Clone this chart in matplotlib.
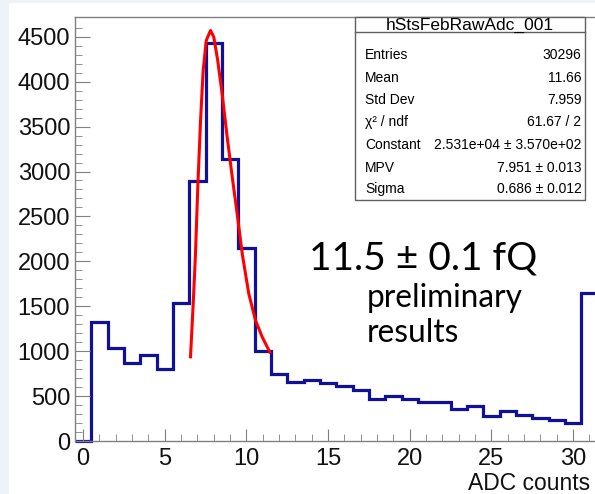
import matplotlib
matplotlib.use('Agg')
import matplotlib.pyplot as plt
import numpy as np
from matplotlib.patches import Rectangle

W, H = 595, 494

# histogram contents, bins of width 1 centred on 0..31
bin_lo = -0.5
counts = [0, 1322, 1032, 865, 958, 802, 1533, 2899, 4436, 3144, 2150, 1006,
          743, 659, 678, 642, 615, 567, 467, 500, 467, 430, 430, 352,
          393, 281, 337, 289, 259, 230, 197, 1653]

# landau fit curve
fit_x = [6.57, 6.74, 6.88, 7.02, 7.19, 7.35, 7.54, 7.80, 8.00, 8.24, 8.51,
         8.82, 9.13, 9.43, 9.74, 10.14, 10.55, 10.96, 11.47]
fit_y = [920, 1531, 2087, 2828, 3570, 4126, 4459, 4570, 4496, 4237, 3866,
         3384, 2939, 2532, 2087, 1642, 1346, 1160, 975]

stats_title = 'hStsFebRawAdc_001'
stats_names = ['Entries', 'Mean', 'Std Dev', 'χ² / ndf', 'Constant', 'MPV', 'Sigma']
stats_vals = ['30296', '11.66', '7.959', '61.67 / 2',
              '2.531e+04 ± 3.570e+02', '7.951 ± 0.013', '0.686 ± 0.012']


def fx(px):
    return px / W


def fy(py):
    return 1 - py / H


plt.rcParams['font.family'] = ['Liberation Sans', 'DejaVu Sans']
fig = plt.figure(figsize=(W / 100, H / 100), dpi=100, facecolor='#eef2f9')
fig.add_artist(Rectangle((fx(9), 0), 1, fy(3), transform=fig.transFigure,
                         facecolor='white', edgecolor='none', zorder=-10))

ax = fig.add_axes([fx(75), fy(441), fx(597.5) - fx(75), fy(17) - fy(441)])
ax.set_facecolor('none')

edges = bin_lo + np.arange(len(counts) + 1)
ax.stairs(counts, edges, color='#101098', linewidth=2.3, baseline=None, clip_on=False)
ax.plot(fit_x, fit_y, color='#ff0000', linewidth=2.2, solid_capstyle='butt')

ax.set_xlim(-0.5, 31.5)
ax.set_ylim(0, 4720)
ax.set_xticks(np.arange(0, 31, 5))
ax.set_xticks(np.arange(0, 32, 1), minor=True)
ax.set_yticks(np.arange(0, 4600, 500))
ax.set_yticks(np.arange(0, 4700, 100), minor=True)
for s in ['top', 'left', 'bottom']:
    ax.spines[s].set_color('#808080')
    ax.spines[s].set_linewidth(1.0)
ax.spines['right'].set_visible(False)
ax.tick_params(axis='both', which='both', direction='in', color='#808080',
               labelsize=17, labelcolor='#111111')
ax.tick_params(axis='x', which='major', length=9, pad=5)
ax.tick_params(axis='x', which='minor', length=4.7)
ax.tick_params(axis='y', which='major', length=10.5, pad=3.5)
ax.tick_params(axis='y', which='minor', length=5)

fig.text(fx(468), fy(483), 'ADC counts', ha='left', va='center', fontsize=16.5, color='#111111')

# stats box
bx0, bx1, by0, by1 = 355, 585, 17, 200
fig.add_artist(Rectangle((fx(bx0), fy(by1)), fx(bx1) - fx(bx0), fy(by0) - fy(by1),
                         transform=fig.transFigure, facecolor='white',
                         edgecolor='#606060', linewidth=1.0))
fig.add_artist(plt.Line2D([fx(bx0), fx(bx1)], [fy(32), fy(32)], transform=fig.transFigure,
                          color='#606060', linewidth=1.0))
fig.text(fx(470), fy(25), stats_title, ha='center', va='center', fontsize=12.5)
row_y = [55, 78.3, 100, 121.7, 145, 168.3, 189.3]
for name, val, ry in zip(stats_names, stats_vals, row_y):
    fig.text(fx(365), fy(ry), name, ha='left', va='center', fontsize=10)
    fig.text(fx(581.5), fy(ry), val, ha='right', va='center', fontsize=10)

fig.text(fx(309), fy(258), '11.5 ± 0.1 fQ', ha='left', va='center', fontsize=28,
         family=['Lato', 'DejaVu Sans'])
fig.text(fx(367), fy(298), 'preliminary', ha='left', va='center', fontsize=22.8,
         family=['Lato', 'DejaVu Sans'])
fig.text(fx(367), fy(333), 'results', ha='left', va='center', fontsize=22.8,
         family=['Lato', 'DejaVu Sans'])

fig.savefig('out.png', dpi=100, facecolor=fig.get_facecolor())
